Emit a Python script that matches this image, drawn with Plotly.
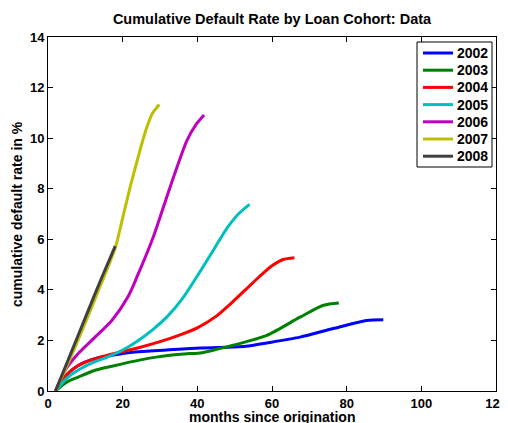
import plotly.graph_objects as go

cohorts = ["2002", "2003", "2004", "2005", "2006", "2007", "2008"]
colors = ["#0000FF", "#008000", "#FF0000", "#00BFBF", "#BF00BF", "#BFBF00", "#404040"]

m2002 = [2, 5.4, 8.1, 12.6, 17.1, 23.3, 31.8, 40.7, 49.6, 53, 58.6, 67.5, 76.4, 85.3, 89.8]
v2002 = [0, 0.69, 1.01, 1.28, 1.41, 1.54, 1.62, 1.70, 1.74, 1.77, 1.90, 2.13, 2.47, 2.79, 2.82]

m2003 = [2, 5, 8.1, 12.6, 17.1, 25.1, 29, 38, 40.7, 46, 49.6, 58.6, 67.5, 73.8, 77.9]
v2003 = [0, 0.35, 0.55, 0.82, 0.98, 1.24, 1.34, 1.48, 1.50, 1.68, 1.81, 2.20, 2.92, 3.39, 3.48]

m2004 = [2, 5, 8, 12, 16, 20, 25, 30, 35, 40, 45, 50, 55, 60, 63, 66]
v2004 = [0, 0.65, 1.0, 1.25, 1.42, 1.56, 1.74, 1.95, 2.2, 2.5, 2.95, 3.6, 4.3, 4.95, 5.2, 5.27]

m2005 = [2, 5, 8, 12, 16, 20, 24, 28, 32, 36, 40, 44, 48, 51, 54]
v2005 = [0, 0.5, 0.82, 1.12, 1.35, 1.62, 1.98, 2.42, 2.95, 3.65, 4.55, 5.5, 6.45, 7.0, 7.38]

m2006 = [2, 4.6, 8.1, 12.6, 17.1, 21.5, 23.8, 28.2, 32.7, 37.2, 39.8, 41.8]
v2006 = [0, 0.82, 1.48, 2.13, 2.79, 3.75, 4.5, 6.09, 8.06, 9.9, 10.57, 10.92]

m2007 = [2, 6, 10, 14, 18, 20, 22, 24.6, 26.4, 28, 29.8]
v2007 = [0, 1.3, 2.7, 4.15, 5.65, 6.85, 8.06, 9.5, 10.4, 10.98, 11.33]

m2008 = [2, 6, 10, 14, 18]
v2008 = [0, 1.45, 2.9, 4.35, 5.73]

months = [m2002, m2003, m2004, m2005, m2006, m2007, m2008]
values = [v2002, v2003, v2004, v2005, v2006, v2007, v2008]

x_ticks = [0, 20, 40, 60, 80, 100, 120]
y_ticks = [0, 2, 4, 6, 8, 10, 12, 14]

# page body has an 8px margin; the figure is placed at (8, 8) in the window
OFF = 8
W, H = 508 - OFF, 423 - OFF
ML, MR, MT, MB = 48 - OFF, 12, 37 - OFF, 32
PW, PH = W - ML - MR, H - MT - MB


def px_x(p):
    return (p - OFF - ML) / PW


def px_y(p):
    return (H - MB - (p - OFF)) / PH


fig = go.Figure()
for name, col, mx, vy in zip(cohorts, colors, months, values):
    fig.add_trace(go.Scatter(x=mx, y=vy, mode="lines", name=name, showlegend=False,
                             line=dict(color=col, width=3, shape="spline", smoothing=0.7)))

font_fam = "Liberation Sans, Arial, sans-serif"
bold14 = dict(family=font_fam, size=14, color="black", weight="bold")
bold13 = dict(family=font_fam, size=13, color="black", weight="bold")
axis_common = dict(showline=True, linecolor="black", linewidth=1, mirror="ticks",
                   ticks="inside", ticklen=5, tickcolor="black", showgrid=False,
                   zeroline=False, automargin=False, tickfont=bold13,
                   ticklabeloverflow="allow")

# legend box (manual, to match the reference's compact spacing)
shapes = [dict(type="rect", xref="paper", yref="paper",
               x0=px_x(417), x1=px_x(492), y0=px_y(167), y1=px_y(42),
               line=dict(color="black", width=1), fillcolor="white", layer="above")]
annotations = []
for i, (name, col) in enumerate(zip(cohorts, colors)):
    cy = 53 + i * 17.2
    shapes.append(dict(type="line", xref="paper", yref="paper",
                       x0=px_x(423), x1=px_x(453), y0=px_y(cy), y1=px_y(cy),
                       line=dict(color=col, width=3), layer="above"))
    annotations.append(dict(xref="paper", yref="paper", x=px_x(455), y=px_y(cy),
                            xanchor="left", yanchor="middle", text=name, showarrow=False,
                            font=bold14))

# axis titles
annotations.append(dict(xref="paper", yref="paper", x=px_x(272), y=px_y(416.5),
                        xanchor="center", yanchor="middle", showarrow=False,
                        text="months since origination", font=bold14))
annotations.append(dict(xref="paper", yref="paper", x=px_x(17), y=px_y(214),
                        xanchor="center", yanchor="middle", showarrow=False, textangle=-90,
                        text="cumulative default rate in %", font=bold14))

fig.update_layout(
    width=W, height=H,
    margin=dict(l=ML, r=MR, t=MT, b=MB, autoexpand=False),
    paper_bgcolor="white", plot_bgcolor="white",
    title=dict(text="Cumulative Default Rate by Loan Cohort: Data", x=(272 - OFF) / W,
               xanchor="center", y=1 - (19 - OFF) / H, yanchor="middle", automargin=False,
               font=dict(family=font_fam, size=14.5, color="black", weight="bold")),
    xaxis=dict(range=[0, 120], tickvals=x_ticks, **axis_common),
    yaxis=dict(range=[0, 14], tickvals=y_ticks, **axis_common),
    shapes=shapes,
    annotations=annotations,
    showlegend=False,
)

fig.write_html("out.html")
